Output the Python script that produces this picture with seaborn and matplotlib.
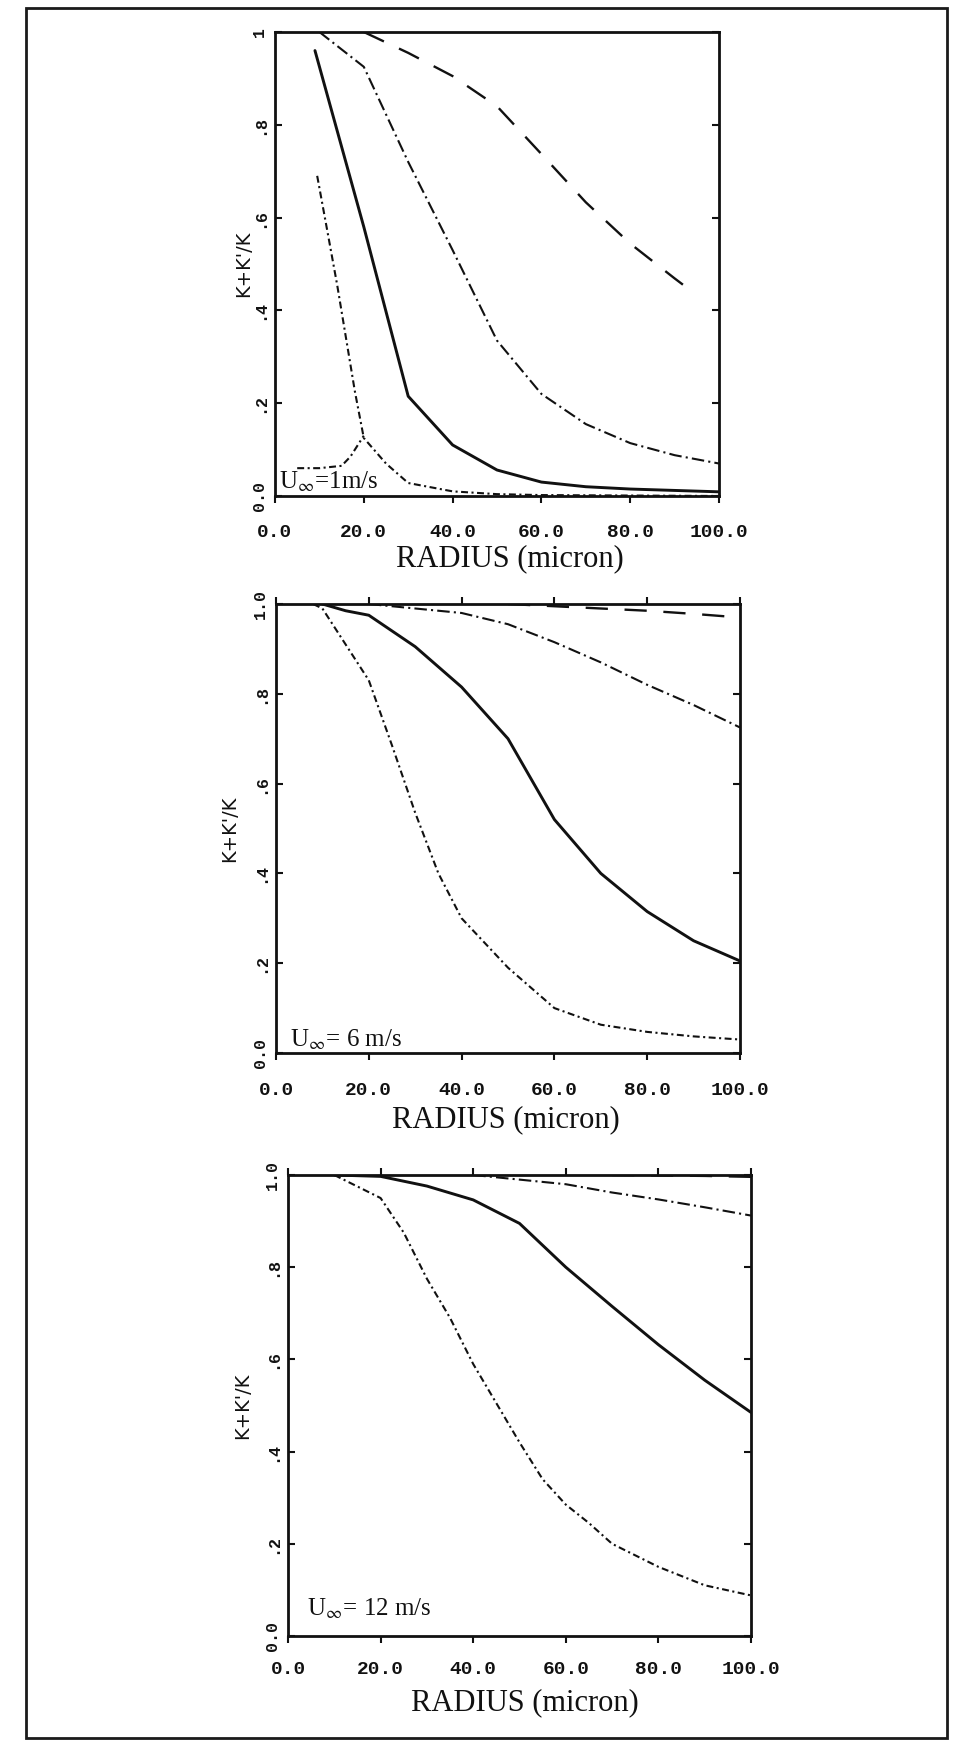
import matplotlib
matplotlib.use("Agg")
import matplotlib.pyplot as plt
from matplotlib.patches import Rectangle
import pandas as pd
import seaborn as sns

# ---------------- data: K+K'/K versus droplet radius (micron) ----------------
# free-stream speed 1 m/s
r1_solid = [9, 20, 30, 40, 50, 60, 70, 80, 90, 100]
k1_solid = [0.96, 0.58, 0.215, 0.11, 0.056, 0.03, 0.02, 0.015, 0.012, 0.009]
r1_dashdot = [10, 20, 30, 40, 50, 60, 70, 80, 90, 100]
k1_dashdot = [1.0, 0.925, 0.72, 0.53, 0.335, 0.22, 0.155, 0.114, 0.088, 0.07]
r1_longdash = [20, 30, 40, 50, 60, 70, 80, 90, 94]
k1_longdash = [1.0, 0.955, 0.905, 0.84, 0.737, 0.633, 0.544, 0.469, 0.44]
r1_dotted = [9.5, 12, 14, 16, 18, 20, 25, 30, 40, 50, 60, 80, 100]
k1_dotted = [0.69, 0.56, 0.455, 0.34, 0.225, 0.125, 0.07, 0.028, 0.01, 0.004, 0.002, 0.001, 0.0]
r1_low = [5, 10, 15, 17, 20]
k1_low = [0.06, 0.06, 0.065, 0.085, 0.13]

# free-stream speed 6 m/s
r2_solid = [10, 15, 20, 30, 40, 50, 60, 70, 80, 90, 100]
k2_solid = [1.0, 0.985, 0.975, 0.905, 0.815, 0.70, 0.52, 0.40, 0.315, 0.25, 0.205]
r2_dashdot = [20, 30, 40, 50, 60, 70, 80, 90, 100]
k2_dashdot = [1.0, 0.99, 0.98, 0.955, 0.915, 0.87, 0.82, 0.775, 0.725]
r2_longdash = [50, 60, 70, 80, 90, 100]
k2_longdash = [1.0, 0.995, 0.99, 0.985, 0.978, 0.97]
r2_dotted = [8, 10, 15, 20, 25, 30, 35, 40, 50, 60, 70, 80, 90, 100]
k2_dotted = [1.0, 0.99, 0.91, 0.83, 0.685, 0.535, 0.40, 0.30, 0.19, 0.10, 0.063, 0.047, 0.037, 0.03]

# free-stream speed 12 m/s
r3_solid = [10, 20, 30, 40, 50, 60, 70, 80, 90, 100]
k3_solid = [1.0, 0.997, 0.976, 0.946, 0.895, 0.80, 0.715, 0.632, 0.555, 0.485]
r3_dashdot = [40, 50, 60, 70, 80, 90, 100]
k3_dashdot = [1.0, 0.99, 0.98, 0.962, 0.947, 0.93, 0.912]
r3_longdash = [70, 80, 90, 100]
k3_longdash = [1.0, 0.999, 0.998, 0.996]
r3_dotted = [10, 15, 20, 25, 30, 35, 40, 45, 50, 55, 60, 65, 70, 80, 90, 100]
k3_dotted = [1.0, 0.975, 0.95, 0.875, 0.775, 0.69, 0.59, 0.505, 0.42, 0.34, 0.285, 0.245, 0.20, 0.15, 0.11, 0.088]

x_ticks = [0, 20, 40, 60, 80, 100]
x_ticklabels = ["0.0", "20.0", "40.0", "60.0", "80.0", "100.0"]
y_ticks = [0.0, 0.2, 0.4, 0.6, 0.8, 1.0]
y_ticklabels_top = ["0.0", ".2", ".4", ".6", ".8", "1"]
y_ticklabels = ["0.0", ".2", ".4", ".6", ".8", "1.0"]
speed_labels = [r"U$_\infty$=1m/s", r"U$_\infty$= 6 m/s", r"U$_\infty$= 12 m/s"]

# ---------------- styling ----------------
sns.set_theme(style="white")
plt.rcParams["font.family"] = ["DejaVu Sans"]
plt.rcParams["mathtext.fontset"] = "stix"
plt.rcParams["lines.scale_dashes"] = False

INK = "#111111"
STYLES = {
    "solid": dict(linestyle="-", linewidth=2.1),
    "dashdot": dict(linestyle=(0, (9, 3, 1.5, 3)), linewidth=1.5),
    "longdash": dict(linestyle=(0, (16, 12)), linewidth=1.7),
    "dotted": dict(linestyle=(0, (5, 2.5, 1.5, 2.5)), linewidth=1.5),
}

W, H = 957, 1742
fig = plt.figure(figsize=(W / 100, H / 100), dpi=100)
fig.patch.set_facecolor("white")

# page frame
fig.patches.append(Rectangle((26 / W, 1 - 1738 / H), (947 - 26) / W, (1738 - 8) / H,
                             transform=fig.transFigure, fill=False,
                             edgecolor="#1a1a1a", linewidth=2.0))

panels = [
    dict(box=(275, 719, 32, 496), top_ticks=False, ylabels=y_ticklabels_top,
         text=speed_labels[0], text_xy=(0.01, 0.03),
         xlabel_xy=(0.53, -0.136), ylabel_dx=-31, xpad=15,
         curves=[(r1_longdash, k1_longdash, "longdash"),
                 (r1_dashdot, k1_dashdot, "dashdot"),
                 (r1_solid, k1_solid, "solid"),
                 (r1_dotted, k1_dotted, "dotted"),
                 (r1_low, k1_low, "dotted")]),
    dict(box=(276, 740, 604, 1053), top_ticks=True, ylabels=y_ticklabels,
         text=speed_labels[1], text_xy=(0.03, 0.03),
         xlabel_xy=(0.496, -0.148), ylabel_dx=-46, xpad=16,
         curves=[(r2_longdash, k2_longdash, "longdash"),
                 (r2_dashdot, k2_dashdot, "dashdot"),
                 (r2_solid, k2_solid, "solid"),
                 (r2_dotted, k2_dotted, "dotted")]),
    dict(box=(288, 751, 1175, 1636), top_ticks=True, ylabels=y_ticklabels,
         text=speed_labels[2], text_xy=(0.041, 0.058),
         xlabel_xy=(0.512, -0.145), ylabel_dx=-45, xpad=13,
         curves=[(r3_longdash, k3_longdash, "longdash"),
                 (r3_dashdot, k3_dashdot, "dashdot"),
                 (r3_solid, k3_solid, "solid"),
                 (r3_dotted, k3_dotted, "dotted")]),
]

for p in panels:
    left, right, top, bottom = p["box"]
    ax = fig.add_axes([left / W, 1 - bottom / H, (right - left) / W, (bottom - top) / H])
    ax.set_facecolor("white")

    for xs, ys, style in p["curves"]:
        df = pd.DataFrame({"radius": xs, "ratio": ys})
        sns.lineplot(data=df, x="radius", y="ratio", ax=ax, color=INK,
                     legend=False, **STYLES[style])

    ax.set_xlim(0, 100)
    ax.set_ylim(0, 1)

    for s in ax.spines.values():
        s.set_visible(True)
        s.set_color(INK)
        s.set_linewidth(2.0)

    ax.set_xticks(x_ticks)
    ax.set_xticklabels(x_ticklabels, fontfamily="Liberation Mono",
                       fontweight="bold", fontsize=14)
    ax.set_yticks(y_ticks)
    ax.set_yticklabels(p["ylabels"], fontfamily="Liberation Mono",
                       fontweight="bold", fontsize=12, rotation=90,
                       va="center")
    ax.tick_params(axis="x", direction="out", length=5, width=1.5,
                   bottom=True, top=p["top_ticks"], pad=p["xpad"], colors=INK)
    ax.tick_params(axis="y", direction="in", length=5, width=1.5,
                   left=True, right=True, pad=6, colors=INK)

    ax.set_xlabel("RADIUS (micron)", fontfamily="Liberation Serif",
                  fontsize=22, color=INK, va="center")
    ax.xaxis.set_label_coords(*p["xlabel_xy"])
    ax.set_ylabel("K+K'/K", fontfamily="DejaVu Sans", fontsize=14,
                  color=INK, va="center")
    ax.yaxis.set_label_coords(p["ylabel_dx"] / (right - left), 0.5)

    ax.text(p["text_xy"][0], p["text_xy"][1], p["text"], transform=ax.transAxes,
            fontfamily="Liberation Serif", fontsize=18, color=INK,
            ha="left", va="center")

fig.savefig("out.png", dpi=100, facecolor="white")
